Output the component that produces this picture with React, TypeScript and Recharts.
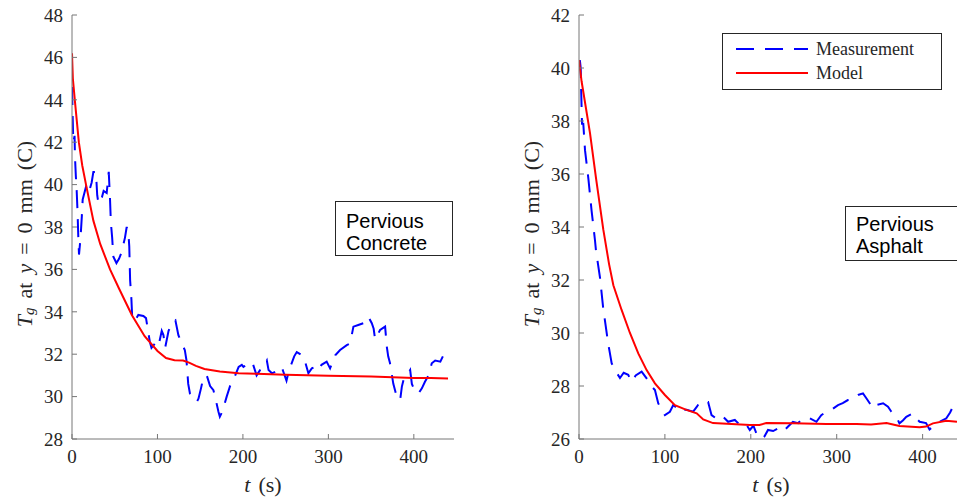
import { LineChart, Line, XAxis, YAxis, Legend, Label } from "recharts";

// ─── Data (t in s, temperature in C) ──────────────────────────────────────────

const concreteMeasured: [number, number][] = [
  [0, 44.6], [0.8, 43.2], [1.5, 42.0], [3, 42.3], [3.5, 41.3], [4.5, 40.4], [5.5, 39.7],
  [6.5, 38.7], [7.4, 37.5], [8.2, 36.7], [10, 37.5], [11.5, 38.5], [12.5, 39.3], [14.5, 39.6],
  [16.4, 39.9], [19.5, 39.6], [23, 40.1], [25, 40.6], [28, 40.6], [29.5, 39.5], [31, 39.1],
  [35, 39.4], [37, 39.7], [40.6, 39.6], [43, 40.6], [44.5, 39.3], [45.5, 38.2], [47, 37.5],
  [48.4, 36.6], [52, 36.3], [55, 36.5], [58, 36.8], [62, 37.5], [64, 38.0], [66, 37.7],
  [67, 37.1], [68, 35.5], [69.5, 34.6], [70.6, 33.6], [73.8, 33.6], [77.6, 33.85], [83.5, 33.8],
  [86.6, 33.7], [89.4, 33.0], [91, 32.6], [93, 32.3], [97, 32.5], [101, 32.35], [105, 33.1],
  [107, 32.9], [109, 32.3], [113, 33.1], [117, 33.5], [121, 33.6], [124.5, 32.9], [126, 32.75],
  [129.6, 32.4], [132, 32.2], [134, 31.7], [136, 30.6], [138, 30.15], [142, 30.0], [146, 29.76],
  [148, 29.9], [151, 30.4], [153.7, 30.9], [157.7, 31.0], [161.6, 30.5], [165.5, 30.3],
  [167.4, 30.0], [171.3, 29.3], [173, 29.05], [176, 29.3], [181, 30.0], [185, 30.5], [189, 30.8],
  [195, 31.4], [198.7, 31.5], [200.6, 31.4], [204, 31.5], [208.4, 31.65], [212, 31.5], [216, 31.0],
  [220, 31.25], [224, 31.4], [228, 31.7], [230, 31.25], [234, 31.1], [237.6, 31.17], [241.5, 31.33],
  [245.4, 31.4], [247.3, 31.17], [251, 30.75], [254, 31.25], [257, 31.57], [260, 31.9], [263, 32.1],
  [267, 32.0], [271, 31.9], [276.6, 31.1], [280.6, 31.33], [284.4, 31.4], [288.3, 31.25], [292, 31.5],
  [298, 31.65], [302, 31.33], [308, 31.95], [313.7, 32.2], [321.5, 32.43], [325.4, 32.5],
  [329.3, 33.3], [335, 33.38], [341, 33.46], [346.8, 33.77], [350.8, 33.46], [353, 33.2],
  [354.7, 32.7], [360.5, 33.14], [366.4, 33.3], [368.4, 32.35], [370, 31.9], [372, 31.6],
  [376, 30.6], [380, 30.0], [384, 29.84], [386, 30.47], [388, 30.8], [392, 31.0], [395.7, 31.25],
  [397.7, 30.6], [401.5, 30.23], [405.5, 30.15], [409.4, 30.39], [413, 30.7], [417, 30.98],
  [421, 31.57], [425, 31.7], [431, 31.65], [434.7, 31.96], [438.6, 32.12], [441, 31.96],
];

const concreteModel: [number, number][] = [
  [0, 46.2], [1, 45.0], [3.5, 43.9], [8, 42.0], [12, 40.9], [16.4, 40.0], [25, 38.3], [33, 37.2],
  [44.5, 36.0], [55, 35.1], [70, 33.85], [85, 32.85], [100, 32.15], [110, 31.82], [120, 31.72],
  [130, 31.7], [137, 31.6], [145, 31.45], [155, 31.3], [173, 31.18], [195, 31.1], [216, 31.08],
  [250, 31.03], [300, 30.98], [350, 30.95], [400, 30.88], [420, 30.88], [440, 30.85],
];

const asphaltMeasured: [number, number][] = [
  [1, 40.3], [2, 40.0], [2.5, 39.2], [3.5, 37.9], [5, 37.9], [7, 36.9], [11, 35.8], [14.7, 34.6],
  [18.6, 33.5], [19.8, 33.1], [24.4, 32.1], [28.3, 30.9], [34, 29.6], [38, 28.86], [41.9, 28.6],
  [47.7, 28.3], [52, 28.5], [57.3, 28.42], [61.3, 28.16], [66, 28.4], [72.9, 28.54], [78.7, 28.29],
  [80.6, 28.2], [84, 28.0], [88.4, 27.85], [92.2, 27.35], [96, 27.1], [100, 26.9], [105.8, 27.03],
  [109.7, 27.28], [113, 27.2], [117.4, 27.03], [121, 27.1], [125.2, 27.1], [132.9, 27.03],
  [136.8, 27.2], [140.7, 27.4], [150.3, 27.4], [154.3, 26.9], [162, 26.72], [167.8, 26.84],
  [173.6, 26.65], [181.4, 26.72], [185.2, 26.6], [189, 26.47], [195, 26.53], [198.8, 26.34],
  [203, 26.5], [206.6, 26.2], [210.5, 26.15], [212.4, 26.02], [216, 26.1], [220, 26.34], [226, 26.3],
  [231.7, 26.4], [237.6, 26.28], [243.4, 26.47], [249, 26.65], [255, 26.6], [261, 26.78],
  [268.6, 26.78], [276.4, 26.65], [282, 26.9], [288, 27.03], [293.8, 27.1], [301.5, 27.28],
  [307, 27.35], [313, 27.47], [319, 27.5], [324.8, 27.66], [330.6, 27.72], [334.5, 27.54],
  [338.4, 27.35], [342, 27.16], [346, 27.28], [354, 27.35], [359.7, 27.22], [363.6, 27.03],
  [369.4, 26.84], [373, 26.59], [377, 26.7], [381, 26.84], [388.7, 26.97], [392.7, 26.78],
  [396.5, 26.65], [404, 26.6], [408, 26.36], [412, 26.47], [419.8, 26.65], [427.6, 26.78],
  [432, 27.0], [437.2, 27.35], [441, 27.45],
];

const asphaltModel: [number, number][] = [
  [0, 40.3], [3, 39.5], [12.8, 37.54], [20, 35.8], [28.3, 33.9], [35, 32.6], [40, 31.8],
  [49.6, 30.87], [59.3, 30.0], [69, 29.23], [78.7, 28.6], [88.4, 28.1], [100, 27.66],
  [111.6, 27.28], [125, 27.1], [137, 26.97], [144.6, 26.74], [156, 26.6], [183, 26.56],
  [199, 26.53], [210, 26.53], [218, 26.6], [249, 26.59], [288, 26.57], [323, 26.57], [340, 26.55],
  [358, 26.6], [373, 26.49], [396.5, 26.44], [404, 26.47], [412, 26.59], [427.6, 26.69], [440, 26.65],
];

const timeTicks = [0, 100, 200, 300, 400];
const concreteTicks = [28, 30, 32, 34, 36, 38, 40, 42, 44, 46, 48];
const asphaltTicks = [26, 28, 30, 32, 34, 36, 38, 40, 42];

// ─── Styling ──────────────────────────────────────────────────────────────────

const SERIF = "'Liberation Serif', 'Times New Roman', serif";
const SANS = "'Liberation Sans', Arial, sans-serif";
const INK = "#262626";
const FRAME = "#767676";
const BLUE = "#0000ff";
const RED = "#ff0000";
const DASH = "18 11";

const toRows = (pts: [number, number][]) => pts.map(([t, v]) => ({ t, v }));

// ─── Axis titles ──────────────────────────────────────────────────────────────

function YTitle() {
  const cx = 24;
  const cy = 234;
  return (
    <text
      x={cx}
      y={cy}
      transform={`rotate(-90 ${cx} ${cy})`}
      textAnchor="middle"
      dominantBaseline="central"
      fontFamily={SERIF}
      fontSize={22}
      fill={INK}
    >
      <tspan fontStyle="italic">T</tspan>
      <tspan fontStyle="italic" fontSize={15} dy={5}>g</tspan>
      <tspan dy={-5} dx={9}>at</tspan>
      <tspan dx={9} fontStyle="italic">y</tspan>
      <tspan dx={9}>=</tspan>
      <tspan dx={9}>0</tspan>
      <tspan dx={9}>mm</tspan>
      <tspan dx={9}>(C)</tspan>
    </text>
  );
}

function XTitle(props: any) {
  const vb = props.viewBox || { x: 0, width: 0 };
  const cx = vb.x + vb.width / 2;
  return (
    <text x={cx} y={492} textAnchor="middle" fontFamily={SERIF} fontSize={22} fill={INK}>
      <tspan fontStyle="italic">t</tspan>
      <tspan dx={8}>(s)</tspan>
    </text>
  );
}

// ─── Legend ───────────────────────────────────────────────────────────────────

function LegendBox() {
  return (
    <div style={{ width: 220, height: 57, boxSizing: "border-box", border: `1px solid ${INK}`, background: "#fff" }}>
      <svg width={218} height={55}>
        <line x1={13} x2={85} y1={15} y2={15} stroke={BLUE} strokeWidth={2} strokeDasharray={DASH} />
        <line x1={13} x2={85} y1={39} y2={39} stroke={RED} strokeWidth={2} />
        <text x={93} y={21} fontFamily={SERIF} fontSize={18} fill={INK}>Measurement</text>
        <text x={93} y={45} fontFamily={SERIF} fontSize={18} fill={INK}>Model</text>
      </svg>
    </div>
  );
}

// ─── Panel ────────────────────────────────────────────────────────────────────

interface PanelProps {
  left: number;
  width: number;
  measured: [number, number][];
  model: [number, number][];
  yDomain: [number, number];
  yTicks: number[];
  legend?: boolean;
}

function Panel({ left, width, measured, model, yDomain, yTicks, legend }: PanelProps) {
  const tickFont = { fontFamily: SERIF, fontSize: 19, fill: INK };
  return (
    <div style={{ position: "absolute", left, top: 0 }}>
      <LineChart width={width} height={499} margin={{ top: 15, right: 16, bottom: 0, left: 0 }}>
        <XAxis
          xAxisId="b"
          type="number"
          dataKey="t"
          domain={[0, 447]}
          ticks={timeTicks}
          allowDataOverflow
          height={60}
          tickSize={-5}
          tickMargin={16}
          tick={tickFont}
          stroke={FRAME}
          axisLine={{ stroke: FRAME }}
          tickLine={{ stroke: FRAME }}
        >
          <Label content={<XTitle />} />
        </XAxis>
        <XAxis
          xAxisId="top"
          orientation="top"
          type="number"
          dataKey="t"
          domain={[0, 447]}
          ticks={timeTicks}
          allowDataOverflow
          height={0}
          tickSize={-5}
          tick={false}
          axisLine={{ stroke: FRAME }}
          tickLine={{ stroke: FRAME }}
        />
        <YAxis
          yAxisId="l"
          type="number"
          domain={yDomain}
          ticks={yTicks}
          allowDataOverflow
          width={72}
          tickSize={-5}
          tickMargin={14}
          tick={tickFont}
          axisLine={{ stroke: FRAME }}
          tickLine={{ stroke: FRAME }}
        >
          <Label content={<YTitle />} />
        </YAxis>
        <YAxis
          yAxisId="r"
          orientation="right"
          type="number"
          domain={yDomain}
          ticks={yTicks}
          allowDataOverflow
          width={0}
          tickSize={-5}
          tick={false}
          axisLine={{ stroke: FRAME }}
          tickLine={{ stroke: FRAME }}
        />
        <Line
          xAxisId="b"
          yAxisId="l"
          data={toRows(measured)}
          dataKey="v"
          name="Measurement"
          stroke={BLUE}
          strokeWidth={2}
          strokeDasharray={DASH}
          dot={false}
          activeDot={false}
          isAnimationActive={false}
        />
        <Line
          xAxisId="b"
          yAxisId="l"
          data={toRows(model)}
          dataKey="v"
          name="Model"
          stroke={RED}
          strokeWidth={2}
          dot={false}
          activeDot={false}
          isAnimationActive={false}
        />
        {legend && (
          <Legend
            layout="horizontal"
            align="center"
            verticalAlign="middle"
            content={() => <LegendBox />}
            wrapperStyle={{ left: 215, top: 33, width: 220, height: 57 }}
          />
        )}
      </LineChart>
    </div>
  );
}

// ─── Text box ─────────────────────────────────────────────────────────────────

function NoteBox({ lines, left, top, width, padTop }: { lines: string[]; left: number; top: number; width: number; padTop: number }) {
  return (
    <div
      style={{
        position: "absolute",
        left,
        top,
        width,
        height: 55,
        boxSizing: "border-box",
        border: `1px solid ${INK}`,
        background: "#fff",
        fontFamily: SANS,
        fontSize: 20,
        lineHeight: "22px",
        color: "#000",
        paddingTop: padTop,
        paddingLeft: 10,
      }}
    >
      {lines.map((l) => (
        <div key={l}>{l}</div>
      ))}
    </div>
  );
}

// ─── App ──────────────────────────────────────────────────────────────────────

export default function App() {
  return (
    <div style={{ position: "fixed", left: 0, top: 0, width: 957, height: 499, overflow: "hidden", background: "#fff" }}>
      <Panel left={0} width={470} measured={concreteMeasured} model={concreteModel} yDomain={[28, 48]} yTicks={concreteTicks} />
      <Panel left={507} width={472} measured={asphaltMeasured} model={asphaltModel} yDomain={[26, 42]} yTicks={asphaltTicks} legend />
      <NoteBox lines={["Pervious", "Concrete"]} left={335} top={201} width={118} padTop={8} />
      <NoteBox lines={["Pervious", "Asphalt"]} left={845} top={206} width={130} padTop={6} />
    </div>
  );
}
